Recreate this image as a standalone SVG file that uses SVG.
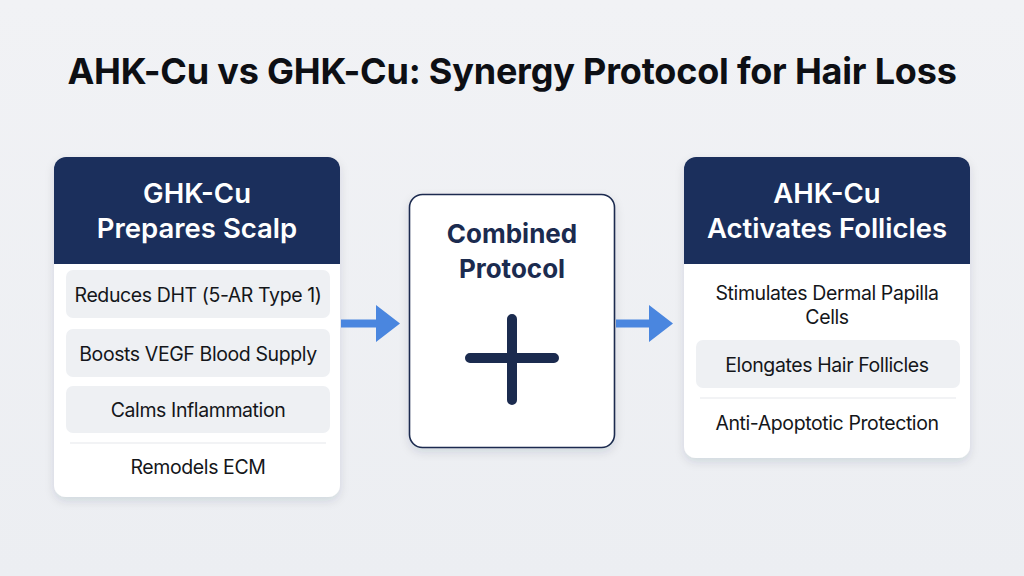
<svg xmlns="http://www.w3.org/2000/svg" width="1024" height="576" viewBox="0 0 1024 576">
<style>
.title{font-family:Inter,"Liberation Sans",sans-serif;font-weight:700;font-size:36px;fill:#0d0f14;text-anchor:middle;letter-spacing:-0.2px}
.hdr{font-family:Inter,"Liberation Sans",sans-serif;font-weight:600;font-size:27.5px;fill:#ffffff;text-anchor:middle}
.item{font-family:Inter,"Liberation Sans",sans-serif;font-weight:400;font-size:19.5px;fill:#14161a;text-anchor:middle;letter-spacing:-0.4px}
.ctr{font-family:Inter,"Liberation Sans",sans-serif;font-weight:700;font-size:26px;fill:#1b2b4f;text-anchor:middle}
.card{fill:#ffffff}
.head{fill:#1b2f5c}
.row{fill:#eef0f3}
.sep{stroke:#e6e8ec;stroke-width:1.2}
.arrow{fill:#4a86df}
</style>
<defs>
<filter id="sh" x="-20%" y="-20%" width="140%" height="140%">
<feDropShadow dx="0" dy="4" stdDeviation="5" flood-color="#1b2640" flood-opacity="0.12"/>
</filter>
<linearGradient id="bg" x1="0" y1="0" x2="0" y2="1">
<stop offset="0" stop-color="#f1f2f5"/>
<stop offset="1" stop-color="#eceef2"/>
</linearGradient>
<clipPath id="cl"><rect x="54" y="157" width="286" height="340" rx="12"/></clipPath>
<clipPath id="cr"><rect x="684" y="157" width="286" height="301" rx="12"/></clipPath>
</defs>
<rect width="1024" height="576" fill="url(#bg)"/>
<text class="title" x="512" y="84">AHK-Cu vs GHK-Cu: Synergy Protocol for Hair Loss</text>

<g id="ghk">
<rect class="card" x="54" y="157" width="286" height="340" rx="12" filter="url(#sh)"/>
<rect class="head" x="54" y="157" width="286" height="107" clip-path="url(#cl)"/>
<text class="hdr" x="197" y="203">GHK-Cu</text>
<text class="hdr" x="197" y="238">Prepares Scalp</text>
<rect class="row" x="66" y="270" width="264" height="48" rx="7"/>
<text class="item" x="198" y="302">Reduces DHT (5-AR Type 1)</text>
<rect class="row" x="66" y="329" width="264" height="48" rx="7"/>
<text class="item" x="198" y="361">Boosts VEGF Blood Supply</text>
<rect class="row" x="66" y="386" width="264" height="47" rx="7"/>
<text class="item" x="198" y="417">Calms Inflammation</text>
<line class="sep" x1="70" y1="443" x2="326" y2="443"/>
<text class="item" x="198" y="474">Remodels ECM</text>
</g>

<g id="combined">
<rect x="409.5" y="194.5" width="205" height="253" rx="13" fill="#ffffff" stroke="#1b2b4f" stroke-width="1.6" filter="url(#sh)"/>
<text class="ctr" x="512" y="243">Combined</text>
<text class="ctr" x="512" y="278">Protocol</text>
<path d="M512 319 V400 M470 358 H554" stroke="#1b2b4f" stroke-width="10" stroke-linecap="round" fill="none"/>
</g>

<g id="ahk">
<rect class="card" x="684" y="157" width="286" height="301" rx="12" filter="url(#sh)"/>
<rect class="head" x="684" y="157" width="286" height="107" clip-path="url(#cr)"/>
<text class="hdr" x="827" y="203">AHK-Cu</text>
<text class="hdr" x="827" y="238">Activates Follicles</text>
<text class="item" x="827" y="300">Stimulates Dermal Papilla</text>
<text class="item" x="827" y="324">Cells</text>
<rect class="row" x="696" y="340" width="264" height="48" rx="7"/>
<text class="item" x="827" y="372">Elongates Hair Follicles</text>
<line class="sep" x1="700" y1="398" x2="956" y2="398"/>
<text class="item" x="827" y="430">Anti-Apoptotic Protection</text>
</g>

<g id="connectors">
<path class="arrow" d="M341 319.5 H376 V305 L400 323.5 L376 342 V327.5 H341 Z"/>
<path class="arrow" d="M616 319.5 H649 V305 L673 323.5 L649 342 V327.5 H616 Z"/>
</g>
</svg>
